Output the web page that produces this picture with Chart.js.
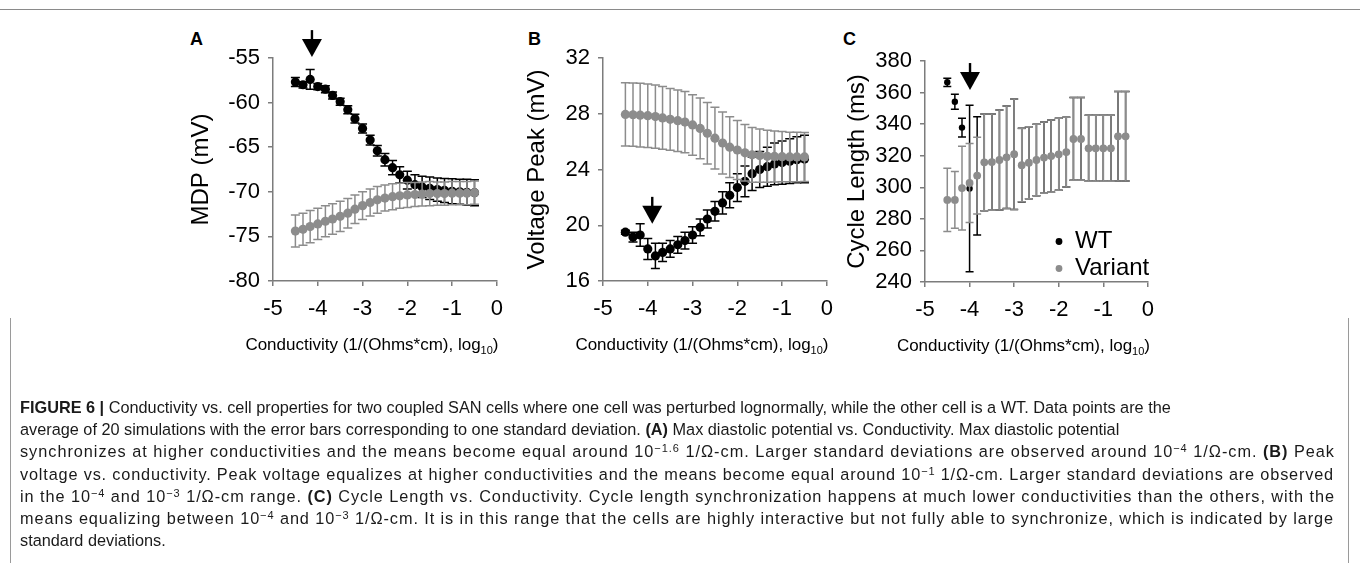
<!DOCTYPE html>
<html>
<head>
<meta charset="utf-8">
<script src="https://cdn.jsdelivr.net/npm/chart.js@4.4.1/dist/chart.umd.min.js"></script>
<style>
  body { margin: 0; width: 1360px; height: 563px; background: #fff; position: relative; overflow: hidden;
         font-family: "Liberation Sans", Arial, sans-serif; }
  .topline { position: absolute; left: 0; top: 9px; width: 1360px; border-top: 1.5px solid #8a8a8a; }
  canvas { position: absolute; top: 0; }
  .letter { position: absolute; top: 30px; font: bold 18px/18px "Liberation Sans", Arial, sans-serif; }
  .caption { position: absolute; left: 10px; top: 318px; width: 1337px; height: 260px;
             border-left: 1.5px solid #9a9a9a; border-right: 1.5px solid #9a9a9a; }
  .ln { position: absolute; left: 9px; font-size: 16.3px; line-height: 22.2px; white-space: nowrap; color: #1a1a1a; }
  .ln span { display: inline-block; }
  sup { font-size: 11px; line-height: 0; vertical-align: 5px; }
</style>
</head>
<body>
<div class="topline"></div>
<div class="letter" style="left:190px">A</div>
<div class="letter" style="left:528px">B</div>
<div class="letter" style="left:843px">C</div>
<canvas id="chartA" width="330" height="365" style="left:183px"></canvas>
<canvas id="chartB" width="324" height="365" style="left:519px"></canvas>
<canvas id="chartC" width="325" height="365" style="left:839px"></canvas>
<div class="caption">
<div class="ln" style="top:78px"><span><b>FIGURE 6 |</b> Conductivity vs. cell properties for two coupled SAN cells where one cell was perturbed lognormally, while the other cell is a WT. Data points are the</span></div>
<div class="ln" style="top:100.2px"><span>average of 20 simulations with the error bars corresponding to one standard deviation. <b>(A)</b> Max diastolic potential vs. Conductivity. Max diastolic potential</span></div>
<div class="ln" style="top:122.4px" data-w="1315"><span>synchronizes at higher conductivities and the means become equal around 10<sup>−1.6</sup> 1/Ω-cm. Larger standard deviations are observed around 10<sup>−4</sup> 1/Ω-cm. <b>(B)</b> Peak</span></div>
<div class="ln" style="top:144.6px" data-w="1314"><span>voltage vs. conductivity. Peak voltage equalizes at higher conductivities and the means become equal around 10<sup>−1</sup> 1/Ω-cm. Larger standard deviations are observed</span></div>
<div class="ln" style="top:166.8px" data-w="1315"><span>in the 10<sup>−4</sup> and 10<sup>−3</sup> 1/Ω-cm range. <b>(C)</b> Cycle Length vs. Conductivity. Cycle length synchronization happens at much lower conductivities than the others, with the</span></div>
<div class="ln" style="top:189px" data-w="1314"><span>means equalizing between 10<sup>−4</sup> and 10<sup>−3</sup> 1/Ω-cm. It is in this range that the cells are highly interactive but not fully able to synchronize, which is indicated by large</span></div>
<div class="ln" style="top:211.2px"><span>standard deviations.</span></div>
</div>
<script>
// conductivity, log10 (x positions shared by all three panels)
const conductivity = [-4.5, -4.33, -4.17, -4.0, -3.83, -3.67, -3.5, -3.33, -3.17, -3.0, -2.83, -2.67, -2.5,
  -2.33, -2.17, -2.0, -1.83, -1.67, -1.5, -1.33, -1.17, -1.0, -0.83, -0.67, -0.5];

const xTicks = [-5, -4, -3, -2, -1, 0];
const mdpTicks = [-80, -75, -70, -65, -60, -55];
const peakTicks = [16, 18, 20, 22, 24, 26, 28, 30, 32];
const cycleTicks = [240, 260, 280, 300, 320, 340, 360, 380];

// A: max diastolic potential (mV)
const mdpWT = [-57.7, -58.0, -57.4, -58.2, -58.5, -59.2, -59.9, -60.8, -61.8, -62.9, -64.2, -65.4, -66.4,
  -67.3, -68.1, -68.7, -69.2, -69.45, -69.6, -69.75, -69.85, -69.95, -70.0, -70.05, -70.1];
const mdpWTsd = [0.5, 0.35, 1.1, 0.35, 0.4, 0.4, 0.4, 0.45, 0.5, 0.5, 0.55, 0.6, 0.7,
  0.8, 0.9, 1.0, 1.1, 1.2, 1.25, 1.3, 1.35, 1.4, 1.4, 1.45, 1.45];
const mdpVariant = [-74.4, -74.2, -73.9, -73.6, -73.3, -73.05, -72.75, -72.4, -71.95, -71.55, -71.2, -70.9, -70.7,
  -70.55, -70.45, -70.35, -70.3, -70.25, -70.2, -70.2, -70.2, -70.15, -70.15, -70.15, -70.1];
const mdpVariantSd = [1.8, 1.8, 1.8, 1.75, 1.75, 1.7, 1.7, 1.65, 1.6, 1.55, 1.5, 1.5, 1.45,
  1.45, 1.4, 1.4, 1.35, 1.35, 1.35, 1.3, 1.3, 1.3, 1.3, 1.3, 1.3];

// B: voltage peak (mV)
const peakWT = [19.5, 19.15, 19.3, 18.3, 17.8, 18.05, 18.3, 18.6, 18.9, 19.3, 19.85, 20.45, 21.0,
  21.6, 22.15, 22.7, 23.15, 23.7, 24.0, 24.2, 24.4, 24.5, 24.6, 24.7, 24.75];
const peakWTsd = [0.15, 0.35, 0.8, 0.75, 0.9, 0.65, 0.6, 0.6, 0.6, 0.6, 0.6, 0.65, 0.7,
  0.8, 0.9, 1.0, 1.1, 1.2, 1.3, 1.4, 1.5, 1.55, 1.6, 1.65, 1.7];
const peakVariant = [27.95, 27.93, 27.9, 27.86, 27.8, 27.7, 27.6, 27.5, 27.4, 27.2, 26.95, 26.6, 26.25,
  25.9, 25.6, 25.4, 25.2, 25.05, 25.0, 24.95, 24.94, 24.92, 24.9, 24.9, 24.9];
const peakVariantSd = [2.27, 2.27, 2.28, 2.28, 2.27, 2.25, 2.22, 2.2, 2.2, 2.17, 2.18, 2.2, 2.22,
  2.22, 2.18, 2.12, 2.03, 1.96, 1.91, 1.87, 1.83, 1.8, 1.78, 1.77, 1.76];

// C: cycle length (ms)
const cycleWT = [366.5, 354.2, 337.8, 299.2, 307.2, 315.8, 316, 317.3, 319, 321, 314, 315.6, 317.3,
  318.8, 319.8, 320.9, 322.3, 330.6, 330.6, 324.7, 324.7, 324.7, 324.7, 332.3, 332.3];
const cycleWTsd = [2.6, 4.8, 6.0, 52.7, 37.5, 30.6, 30.5, 31.7, 32.5, 35, 23.4, 22.8, 22.6,
  22.6, 22.9, 22.8, 22.1, 26.2, 26.2, 20.9, 20.9, 20.9, 20.9, 28.3, 28.3];
const cycleVariant = [292, 292, 299.5, 302.7, 307.4, 315.8, 316, 317.3, 319, 321, 314, 315.6, 317.3,
  318.8, 319.8, 320.9, 322.3, 330.6, 330.6, 324.7, 324.7, 324.7, 324.7, 332.3, 332.3];
const cycleVariantSd = [20, 18, 26.5, 25, 24.3, 30.6, 30.5, 31.7, 32.5, 35, 23.2, 22.8, 22.6,
  22.6, 22.9, 22.8, 22.1, 26.2, 26.2, 20.9, 20.9, 20.9, 20.9, 28.3, 28.3];

// arrows marking the highlighted conductivity in each panel
const arrowX = [-4.13, -3.9, -3.99];
const arrowTip = [-54.9, 20.1, 361.6];

const BLACK = '#000000';
const GRAY = '#8c8c8c';
const AXIS = '#7c7c7c';
const FONT = '"Liberation Sans", Arial, sans-serif';

// widen the long caption lines to their width in the figure
document.querySelectorAll('.ln[data-w]').forEach(ln => {
  const span = ln.firstElementChild;
  const extra = +ln.dataset.w - span.getBoundingClientRect().width;
  span.style.letterSpacing = (extra / span.textContent.length) + 'px';
});

Chart.defaults.font.family = FONT;
Chart.defaults.color = '#000';

const errorBars = {
  id: 'errorBars',
  beforeDatasetDraw(chart, args, opts) {
    const ds = chart.data.datasets[args.index];
    if (!ds.sd) return;
    const { ctx, scales: { y } } = chart;
    ctx.save();
    ctx.strokeStyle = ds.barColor;
    ctx.lineWidth = 1.5;
    args.meta.data.forEach((pt, i) => {
      const v = ds.data[i].y, s = ds.sd[i];
      const top = y.getPixelForValue(v + s), bot = y.getPixelForValue(v - s);
      const c = opts.cap;
      ctx.beginPath();
      ctx.moveTo(pt.x, top); ctx.lineTo(pt.x, bot);
      ctx.moveTo(pt.x - c, top); ctx.lineTo(pt.x + c, top);
      ctx.moveTo(pt.x - c, bot); ctx.lineTo(pt.x + c, bot);
      ctx.stroke();
    });
    ctx.restore();
  }
};

const arrowMark = {
  id: 'arrowMark',
  afterDatasetsDraw(chart, args, opts) {
    const { ctx, scales: { x, y } } = chart;
    const px = x.getPixelForValue(opts.x), tip = y.getPixelForValue(opts.tip);
    ctx.save();
    ctx.fillStyle = BLACK;
    ctx.beginPath();
    ctx.moveTo(px, tip);
    ctx.lineTo(px - 10, tip - 18);
    ctx.lineTo(px + 10, tip - 18);
    ctx.closePath();
    ctx.fill();
    ctx.fillRect(px - 1.2, tip - 27, 2.4, 10);
    ctx.restore();
  }
};

// x title drawn by hand so that "10" can be a real subscript
const xTitle = {
  id: 'xTitle',
  afterDraw(chart, args, opts) {
    const { ctx, chartArea } = chart;
    const main = 'Conductivity (1/(Ohms*cm), log';
    const f1 = '17px ' + FONT, f2 = '11px ' + FONT;
    ctx.save();
    ctx.font = f1;
    const w1 = ctx.measureText(main).width, w3 = ctx.measureText(')').width;
    ctx.font = f2;
    const w2 = ctx.measureText('10').width;
    let x = (chartArea.left + chartArea.right) / 2 - opts.shift - (w1 + w2 + w3) / 2;
    const y = chartArea.bottom + opts.dy;
    ctx.fillStyle = BLACK;
    ctx.textBaseline = 'alphabetic';
    ctx.font = f1; ctx.fillText(main, x, y); x += w1;
    ctx.font = f2; ctx.fillText('10', x, y + 4); x += w2;
    ctx.font = f1; ctx.fillText(')', x, y);
    ctx.restore();
  }
};

const dotLegend = {
  id: 'dotLegend',
  afterDraw(chart, args, opts) {
    if (!opts.display) return;
    const { ctx, chartArea } = chart;
    ctx.save();
    ctx.font = '24px ' + FONT;
    ctx.textBaseline = 'middle';
    chart.data.datasets.forEach((ds, i) => {
      const x = chartArea.left + opts.left;
      const y = chartArea.bottom - opts.bottom + i * opts.gap;
      ctx.fillStyle = ds.backgroundColor;
      ctx.beginPath();
      ctx.arc(x, y, 3.4, 0, Math.PI * 2);
      ctx.fill();
      ctx.fillStyle = BLACK;
      ctx.fillText(ds.label, x + 16, y);
    });
    ctx.restore();
  }
};

const toPoints = ys => ys.map((v, i) => ({ x: conductivity[i], y: v }));
const tickList = list => scale => { scale.ticks = list.map(v => ({ value: v })); };

function panel(id, o) {
  return new Chart(document.getElementById(id), {
    type: 'scatter',
    data: {
      datasets: [
        { label: 'WT', data: toPoints(o.wt), sd: o.wtSd, barColor: BLACK, order: 1,
          backgroundColor: BLACK, pointRadius: o.rWT, pointBorderWidth: 0 },
        { label: 'Variant', data: toPoints(o.variant), sd: o.variantSd, barColor: GRAY, order: 0,
          backgroundColor: GRAY, pointRadius: o.rVariant, pointBorderWidth: 0 }
      ]
    },
    options: {
      responsive: false,
      animation: false,
      events: [],
      layout: { padding: { top: o.top, right: 16, left: 0, bottom: 0 } },
      plugins: {
        legend: { display: false },
        tooltip: { enabled: false },
        errorBars: { cap: o.cap },
        arrowMark: { x: o.arrowX, tip: o.arrowTip },
        xTitle: { shift: 13, dy: 69 },
        dotLegend: { display: !!o.legend, left: 134, bottom: 40.5, gap: 27 }
      },
      scales: {
        x: {
          type: 'linear', min: -5, max: 0,
          afterBuildTicks: tickList(xTicks),
          afterFit: s => { s.height = 365 - o.bottom; },
          ticks: { font: { size: 22 }, padding: 10 },
          grid: { drawOnChartArea: false, tickLength: 5, color: AXIS, lineWidth: 1.5 },
          border: { color: AXIS, width: 1.5 }
        },
        y: {
          min: o.yTicks[0], max: o.yTicks[o.yTicks.length - 1],
          afterBuildTicks: tickList(o.yTicks),
          afterFit: s => { s.width = o.yWidth; },
          ticks: { font: { size: 22 }, padding: 8 },
          grid: { drawOnChartArea: false, tickLength: 5, color: AXIS, lineWidth: 1.5 },
          border: { color: AXIS, width: 1.5 },
          title: { display: true, text: o.yTitle, font: { size: 24 }, padding: { top: 4, bottom: 0 } }
        }
      }
    },
    plugins: [errorBars, arrowMark, xTitle, dotLegend]
  });
}

panel('chartA', {
  wt: mdpWT, wtSd: mdpWTsd, variant: mdpVariant, variantSd: mdpVariantSd,
  yTicks: mdpTicks, yTitle: 'MDP (mV)', yWidth: 90, top: 58, bottom: 281,
  rWT: 4.6, rVariant: 4.6, cap: 4.5, arrowX: arrowX[0], arrowTip: arrowTip[0]
});
panel('chartB', {
  wt: peakWT, wtSd: peakWTsd, variant: peakVariant, variantSd: peakVariantSd,
  yTicks: peakTicks, yTitle: 'Voltage Peak (mV)', yWidth: 84, top: 58, bottom: 281,
  rWT: 4.6, rVariant: 4.6, cap: 4.5, arrowX: arrowX[1], arrowTip: arrowTip[1]
});
panel('chartC', {
  wt: cycleWT, wtSd: cycleWTsd, variant: cycleVariant, variantSd: cycleVariantSd,
  yTicks: cycleTicks, yTitle: 'Cycle Length (ms)', yWidth: 86, top: 61, bottom: 282,
  rWT: 3.2, rVariant: 3.9, cap: 4, arrowX: arrowX[2], arrowTip: arrowTip[2], legend: true
});
</script>
</body>
</html>
